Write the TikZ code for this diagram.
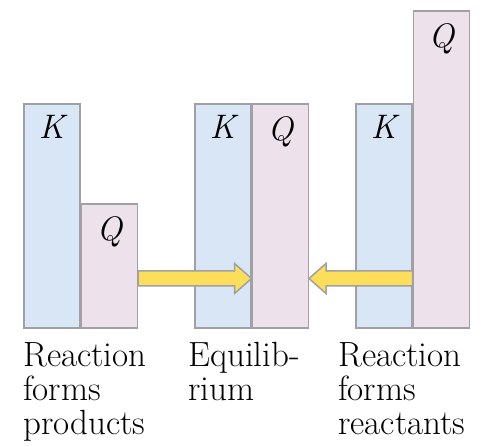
\documentclass[tikz,border=0pt]{standalone}
\usepackage{xcolor}
\usepackage{tikz}
\usetikzlibrary{positioning,calc}
\definecolor{kblue}{RGB}{217,230,245}
\definecolor{qpink}{RGB}{237,225,235}
\definecolor{edgegray}{RGB}{160,160,165}
\definecolor{arrowyellow}{RGB}{253,222,90}
\tikzset{
kbar/.style={
draw=edgegray,
line width=1.5pt,
fill=kblue,
minimum width=56pt,
inner sep=0pt
},
qbar/.style={
draw=edgegray,
line width=1.5pt,
fill=qpink,
minimum width=56pt,
inner sep=0pt
},
letter/.style={
inner sep=0pt,
font=\fontsize{34}{34}\selectfont\itshape
},
caption/.style={
inner sep=0pt,
align=left,
font=\fontsize{35}{34}\selectfont
},
fatarrow/.style={
draw=edgegray,
line width=1.5pt,
fill=arrowyellow,
line join=miter
}
}
\begin{document}
\begin{tikzpicture}[x=1pt,y=1pt]
\useasboundingbox (0,0) rectangle (485,447);
% bars
\node[kbar,minimum height=224pt,anchor=south west](k1) at (23,118){};
\node[qbar,minimum height=124pt,right=0pt of k1.south east,anchor=south west](q1){};
\node[kbar,minimum height=224pt,anchor=south west](k2) at (194,118){};
\node[qbar,minimum height=224pt,right=0pt of k2.south east,anchor=south west](q2){};
\node[kbar,minimum height=224pt,anchor=south west](k3) at (355,118){};
\node[qbar,minimum height=317pt,right=0pt of k3.south east,anchor=south west](q3){};

% letters
\node[letter,below=12pt of k1.north](k1t){K};
\node[letter,below=13pt of q1.north](q1t){Q};
\node[letter,below=12pt of k2.north](k2t){K};
\node[letter,below=13pt of q2.north](q2t){Q};
\node[letter,below=12pt of k3.north](k3t){K};
\node[letter,below=13pt of q3.north](q3t){Q};

% arrows
\coordinate(a1s) at ($(q1.south east)+(0,50.5)$);
\coordinate(a1e) at (k2.east |- a1s);
\coordinate(a2s) at ($(q3.south west)+(0,50.5)$);
\coordinate(a2e) at (q2.east |- a2s);
\foreach \s/\e in {a1s/a1e,a2s/a2e}
\draw[fatarrow]($(\s)+(0,7.5)$)--($(\e)!17pt!(\s)+(0,7.5)$)--($(\e)!17pt!(\s)+(0,15)$)
--(\e)--($(\e)!17pt!(\s)+(0,-15)$)--($(\e)!17pt!(\s)+(0,-7.5)$)--($(\s)+(0,-7.5)$)--cycle;

% captions
\node[caption,below=13pt of k1.south west,anchor=north west](c1){Reaction\\forms\\products};
\node[caption,below=13pt of k2.south west,anchor=north west,xshift=-6pt](c2){Equilib-\\rium};
\node[caption,below=13pt of k3.south west,anchor=north west,xshift=-17pt](c3){Reaction\\forms\\reactants};
\end{tikzpicture}
\end{document}
